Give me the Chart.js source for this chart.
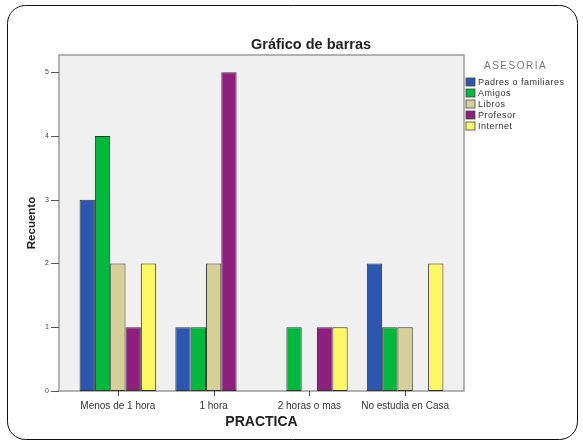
<!DOCTYPE html>
<html>
<head>
<meta charset="utf-8">
<script src="https://cdn.jsdelivr.net/npm/chart.js@4"></script>
<style>
  html, body { margin: 0; padding: 0; background: #fff; }
  #wrap { width: 583px; height: 447px; }
</style>
</head>
<body>
<div id="wrap"><canvas id="chart" width="583" height="447"></canvas></div>
<script>
const categories = ['Menos de 1 hora', '1 hora', '2 horas o mas', 'No estudia en Casa'];
const seriesNames = ['Padres o familiares', 'Amigos', 'Libros', 'Profesor', 'Internet'];
const padres   = [3, 1, 0, 2];
const amigos   = [4, 1, 1, 1];
const libros   = [2, 2, 0, 1];
const profesor = [1, 5, 1, 0];
const internet = [2, 0, 1, 2];
const yTicks = [0, 1, 2, 3, 4, 5];
const chartTitle = 'Gráfico de barras';

const colors = ['#2b57b0', '#00b83c', '#d6cf98', '#8f1f7e', '#fdf764'];
const series = [padres, amigos, libros, profesor, internet];

const FONT = 'Liberation Sans, Arial, sans-serif';

// frame, plot box, title, tick marks and legend, SPSS style
const spssLook = {
  id: 'spssLook',
  beforeDraw(chart) {
    const ctx = chart.ctx;
    const a = chart.chartArea;
    ctx.save();
    ctx.fillStyle = '#fff';
    ctx.fillRect(0, 0, chart.width, chart.height);
    // outer rounded frame
    ctx.strokeStyle = '#111';
    ctx.lineWidth = 1;
    ctx.beginPath();
    ctx.roundRect(7.5, 5.5, 570, 434, 18);
    ctx.stroke();
    // plot box
    ctx.fillStyle = '#f0f0f0';
    ctx.fillRect(a.left - 11, a.top, a.right - a.left + 22, a.bottom - a.top);
    // title (SPSS puts it off-centre)
    ctx.fillStyle = '#222';
    ctx.font = 'bold 14.5px ' + FONT;
    ctx.textAlign = 'center';
    ctx.textBaseline = 'middle';
    ctx.fillText(chartTitle, 311, 45);
    ctx.restore();
  },
  beforeDatasetsDraw(chart) {
    const ctx = chart.ctx;
    const a = chart.chartArea;
    const y = chart.scales.y, x = chart.scales.x;
    ctx.save();
    ctx.strokeStyle = '#9a9a9a';
    ctx.lineWidth = 1.5;
    ctx.strokeRect(a.left - 11, a.top, a.right - a.left + 22, a.bottom - a.top);
    ctx.strokeStyle = '#555';
    ctx.lineWidth = 1;
    yTicks.forEach(v => {
      const py = Math.round(y.getPixelForValue(v)) + 0.5;
      ctx.beginPath();
      ctx.moveTo(a.left - 19, py);
      ctx.lineTo(a.left - 11, py);
      ctx.stroke();
    });
    categories.forEach((c, i) => {
      const px = Math.round(x.getPixelForValue(i)) + 0.5;
      ctx.beginPath();
      ctx.moveTo(px, a.bottom);
      ctx.lineTo(px, a.bottom + 5);
      ctx.stroke();
    });
    ctx.restore();
  },
  afterDraw(chart) {
    const ctx = chart.ctx;
    ctx.save();
    ctx.fillStyle = '#777';
    ctx.font = '10px ' + FONT;
    ctx.letterSpacing = '1.5px';
    ctx.textBaseline = 'middle';
    ctx.fillText('ASESORIA', 484, 66);
    ctx.letterSpacing = '0.5px';
    ctx.font = '9px ' + FONT;
    chart.data.datasets.forEach((ds, i) => {
      const cy = 82 + i * 11;
      ctx.fillStyle = ds.backgroundColor;
      ctx.fillRect(466, cy - 4, 9, 8);
      ctx.strokeStyle = '#444';
      ctx.lineWidth = 0.8;
      ctx.strokeRect(466, cy - 4, 9, 8);
      ctx.fillStyle = '#333';
      ctx.fillText(ds.label, 478, cy + 0.5);
    });
    ctx.restore();
  }
};

new Chart(document.getElementById('chart'), {
  type: 'bar',
  data: {
    labels: categories,
    datasets: seriesNames.map((name, i) => ({
      label: name,
      data: series[i].map(v => v || null),
      backgroundColor: colors[i],
      borderColor: '#333',
      borderWidth: 1,
      borderSkipped: false,
      categoryPercentage: 0.8,
      barPercentage: 1
    }))
  },
  options: {
    responsive: false,
    animation: false,
    layout: { padding: { left: 8, right: 130, top: 55, bottom: 12 } },
    plugins: {
      legend: { display: false },
      tooltip: { enabled: false },
      title: { display: false }
    },
    scales: {
      x: {
        grid: { display: false, drawTicks: false },
        border: { display: false },
        ticks: { color: '#333', font: { family: FONT, size: 10 }, padding: 9, maxRotation: 0 },
        title: {
          display: true, text: 'PRACTICA', color: '#222',
          font: { family: FONT, size: 14, weight: 'bold' },
          padding: { top: 0, bottom: 4 }
        },
        afterFit(s) { s.height = 44; }
      },
      y: {
        min: 0,
        max: 5.27,
        grid: { display: false, drawTicks: false },
        border: { display: false },
        ticks: { stepSize: 1, color: '#444', font: { family: FONT, size: 7 }, padding: 21 },
        afterBuildTicks(s) { s.ticks = yTicks.map(v => ({ value: v })); },
        title: {
          display: true, text: 'Recuento', color: '#222',
          font: { family: FONT, size: 11.5, weight: 'bold' },
          padding: { top: 17, bottom: 0 }
        },
        afterFit(s) { s.width = 62; }
      }
    }
  },
  plugins: [spssLook]
});
</script>
</body>
</html>
